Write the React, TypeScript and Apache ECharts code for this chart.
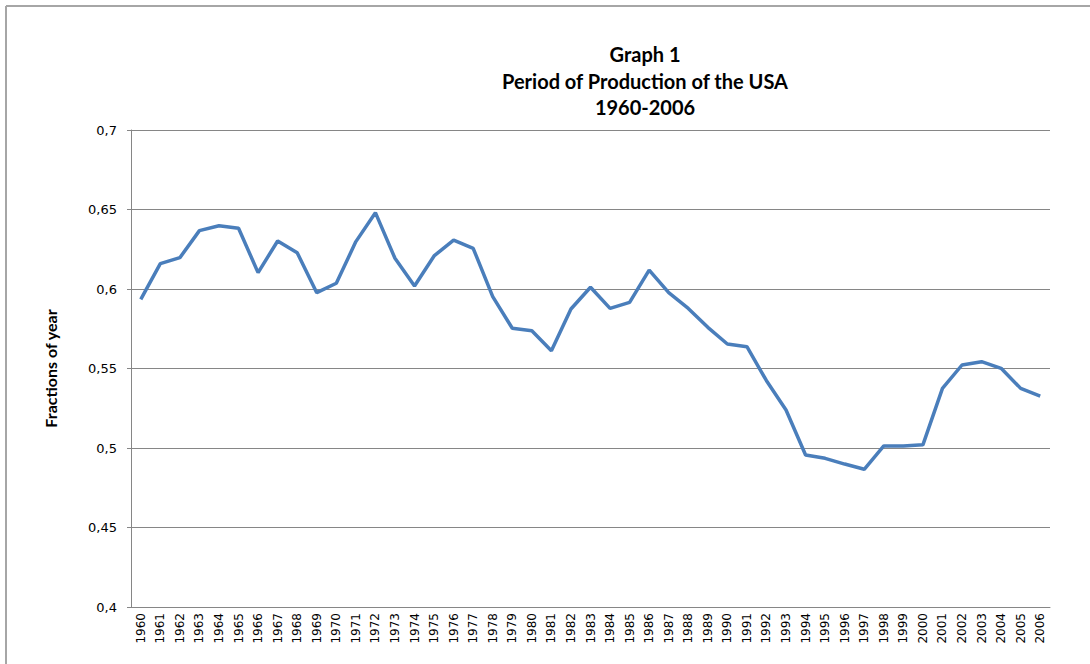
import React, { useEffect, useRef } from "react";
import * as echarts from "echarts";

const years = [
  "1960","1961","1962","1963","1964","1965","1966","1967","1968","1969",
  "1970","1971","1972","1973","1974","1975","1976","1977","1978","1979",
  "1980","1981","1982","1983","1984","1985","1986","1987","1988","1989",
  "1990","1991","1992","1993","1994","1995","1996","1997","1998","1999",
  "2000","2001","2002","2003","2004","2005","2006",
];

const fractions = [
  0.5935, 0.616, 0.6197, 0.6367, 0.6398, 0.6382, 0.6103, 0.6302, 0.6228, 0.5977,
  0.6036, 0.6298, 0.648, 0.6193, 0.6019, 0.6208, 0.6308, 0.6256, 0.5952, 0.5753,
  0.5738, 0.5612, 0.5874, 0.6011, 0.5878, 0.5916, 0.6119, 0.5977, 0.5878, 0.5759,
  0.5654, 0.5637, 0.5423, 0.5239, 0.4956, 0.4935, 0.4899, 0.4866, 0.5013, 0.5013,
  0.502, 0.5375, 0.5522, 0.5543, 0.5501, 0.5375, 0.5327,
];

const titleLines = ["Graph 1", "Period of Production of the USA", "1960-2006"];
const yAxisName = "Fractions of year";

export default function App() {
  const ref = useRef<HTMLDivElement>(null);
  useEffect(() => {
    if (!ref.current) return;
    const chart = echarts.init(ref.current, undefined, { renderer: "svg" });
    const font = "Lato, 'Open Sans', 'DejaVu Sans', sans-serif";
    const tickFont = "'DejaVu Sans', Verdana, sans-serif";
    chart.setOption({
      animation: false,
      backgroundColor: "#ffffff",
      textStyle: { fontFamily: font },
      title: {
        text: titleLines.join("\n"),
        left: 640,
        top: 36,
        textAlign: "center",
        textStyle: {
          fontFamily: font,
          fontSize: 20,
          fontWeight: "bold",
          color: "#000",
          lineHeight: 26.5,
        },
      },
      graphic: [
        { type: "line", shape: { x1: 6, y1: 6, x2: 1090, y2: 6 }, style: { stroke: "#a6a6a6", lineWidth: 2 } },
        { type: "line", shape: { x1: 6, y1: 6, x2: 6, y2: 664 }, style: { stroke: "#a6a6a6", lineWidth: 2 } },
      ],
      grid: { left: 131, right: 40, top: 130, bottom: 57, containLabel: false },
      xAxis: {
        type: "category",
        data: years,
        boundaryGap: true,
        axisLine: { lineStyle: { color: "#868686", width: 1 } },
        axisTick: { show: false },
        axisLabel: {
          interval: 0,
          rotate: 90,
          fontSize: 12,
          color: "#000",
          margin: 6,
          fontFamily: tickFont,
        },
      },
      yAxis: {
        type: "value",
        min: 0.4,
        max: 0.7,
        interval: 0.05,
        name: yAxisName,
        nameLocation: "middle",
        nameGap: 73,
        nameRotate: 90,
        nameTextStyle: { fontSize: 16, fontWeight: "bold", color: "#000", fontFamily: font },
        axisLine: { show: true, lineStyle: { color: "#868686", width: 1 } },
        axisTick: { show: true, length: 4, lineStyle: { color: "#868686" } },
        axisLabel: {
          fontSize: 13,
          color: "#000",
          margin: 14,
          fontFamily: tickFont,
          formatter: (v: number) => String(Math.round(v * 100) / 100).replace(".", ","),
        },
        splitLine: { show: true, lineStyle: { color: "#868686", width: 1 } },
      },
      series: [
        {
          type: "line",
          data: fractions,
          symbol: "none",
          lineStyle: { color: "#4a7ebb", width: 3.5 },
          itemStyle: { color: "#4a7ebb" },
        },
      ],
    });
    return () => chart.dispose();
  }, []);
  return (
    <div
      ref={ref}
      style={{ position: "absolute", left: 0, top: 0, width: 1090, height: 664 }}
    />
  );
}
